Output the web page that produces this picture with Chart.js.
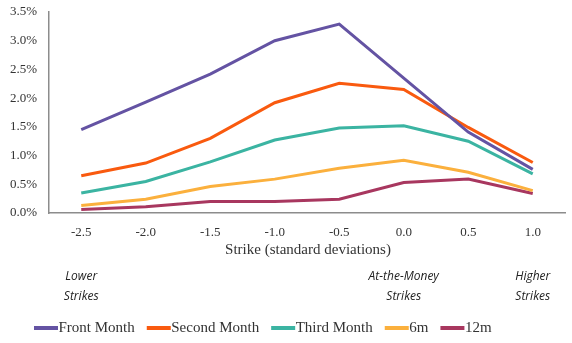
<!DOCTYPE html>
<html>
<head>
<meta charset="utf-8">
<script src="https://cdn.jsdelivr.net/npm/chart.js@4/dist/chart.umd.min.js"></script>
<style>
  html, body { margin: 0; padding: 0; background: #fff; }
  #wrap { width: 572px; height: 343px; }
</style>
</head>
<body>
<div id="wrap"><canvas id="c" width="572" height="343"></canvas></div>
<script>
// Strike buckets (standard deviations from at-the-money)
const strikes = ['-2.5', '-2.0', '-1.5', '-1.0', '-0.5', '0.0', '0.5', '1.0'];

// Implied volatility skew by expiry, in percent
const frontMonth  = [1.45, 1.93, 2.42, 3.00, 3.29, 2.35, 1.41, 0.76];
const secondMonth = [0.65, 0.87, 1.30, 1.92, 2.26, 2.15, 1.49, 0.88];
const thirdMonth  = [0.35, 0.55, 0.89, 1.27, 1.48, 1.52, 1.25, 0.68];
const sixMonth    = [0.13, 0.24, 0.46, 0.59, 0.78, 0.92, 0.71, 0.39];
const twelveMonth = [0.06, 0.11, 0.20, 0.20, 0.24, 0.53, 0.59, 0.34];

const seriesNames = ['Front Month', 'Second Month', 'Third Month', '6m', '12m'];
const yTicks = [0, 0.5, 1.0, 1.5, 2.0, 2.5, 3.0, 3.5];

// Region notes under the axis: [strike, first line, second line]
const regionNotes = [
  ['-2.5', 'Lower', 'Strikes'],
  ['0.0', 'At-the-Money', 'Strikes'],
  ['1.0', 'Higher', 'Strikes']
];
const xTitle = 'Strike (standard deviations)';

const colors = ['#6453a3', '#f95a0f', '#3bb4a2', '#fbb03d', '#a8375f'];
const serif = '"Liberation Serif", "DejaVu Serif", serif';

// Axis title, region notes and a compact legend (swatch touching its label)
const notesPlugin = {
  id: 'notes',
  afterDraw(chart) {
    const ctx = chart.ctx;
    const x = chart.scales.x;
    const area = chart.chartArea;
    ctx.save();
    ctx.fillStyle = '#333';
    ctx.textAlign = 'center';
    ctx.textBaseline = 'middle';
    ctx.font = '15px ' + serif;
    ctx.fillText(xTitle, (area.left + area.right) / 2 + 1, area.bottom + 37);

    ctx.fillStyle = '#222';
    ctx.font = 'italic 12px "Open Sans", "Noto Sans", sans-serif';
    regionNotes.forEach(([s, a, b]) => {
      const px = x.getPixelForValue(strikes.indexOf(s));
      ctx.fillText(a, px, area.bottom + 64);
      ctx.fillText(b, px, area.bottom + 84);
    });

    ctx.font = '15px ' + serif;
    ctx.textAlign = 'left';
    const legendY = 328;
    let lx = 34;
    chart.data.datasets.forEach(ds => {
      ctx.fillStyle = ds.borderColor;
      ctx.fillRect(lx, legendY - 2, 24, 4);
      lx += 24.5;
      ctx.fillStyle = '#333';
      ctx.fillText(ds.label, lx, legendY);
      lx += ctx.measureText(ds.label).width + 12;
    });
    ctx.restore();
  }
};

const dataSets = [frontMonth, secondMonth, thirdMonth, sixMonth, twelveMonth];

new Chart(document.getElementById('c'), {
  type: 'line',
  data: {
    labels: strikes,
    datasets: dataSets.map((d, i) => ({
      label: seriesNames[i],
      data: d,
      borderColor: colors[i],
      backgroundColor: colors[i],
      borderWidth: 3,
      pointRadius: 0,
      tension: 0,
      fill: false
    }))
  },
  options: {
    responsive: false,
    animation: false,
    layout: { padding: { top: 12, right: 7, left: 0, bottom: 0 } },
    plugins: {
      legend: { display: false },
      tooltip: { enabled: false }
    },
    scales: {
      x: {
        offset: true,
        grid: { display: false, drawTicks: false },
        border: { display: true, color: '#8c8c8c', width: 1.5 },
        ticks: { color: '#333', font: { family: serif, size: 13 }, padding: 12 },
        afterFit(s) { s.height = 130; }
      },
      y: {
        min: 0,
        max: 3.5,
        grid: { display: false, drawTicks: false },
        border: { display: true, color: '#8c8c8c', width: 1.5 },
        afterBuildTicks(s) { s.ticks = yTicks.map(v => ({ value: v })); },
        ticks: {
          color: '#333',
          font: { family: serif, size: 13 },
          padding: 12,
          callback: v => v.toFixed(1) + '%'
        },
        afterFit(s) { s.width = 49; s.paddingTop = 0; s.paddingBottom = 0; }
      }
    }
  },
  plugins: [notesPlugin]
});
</script>
</body>
</html>
